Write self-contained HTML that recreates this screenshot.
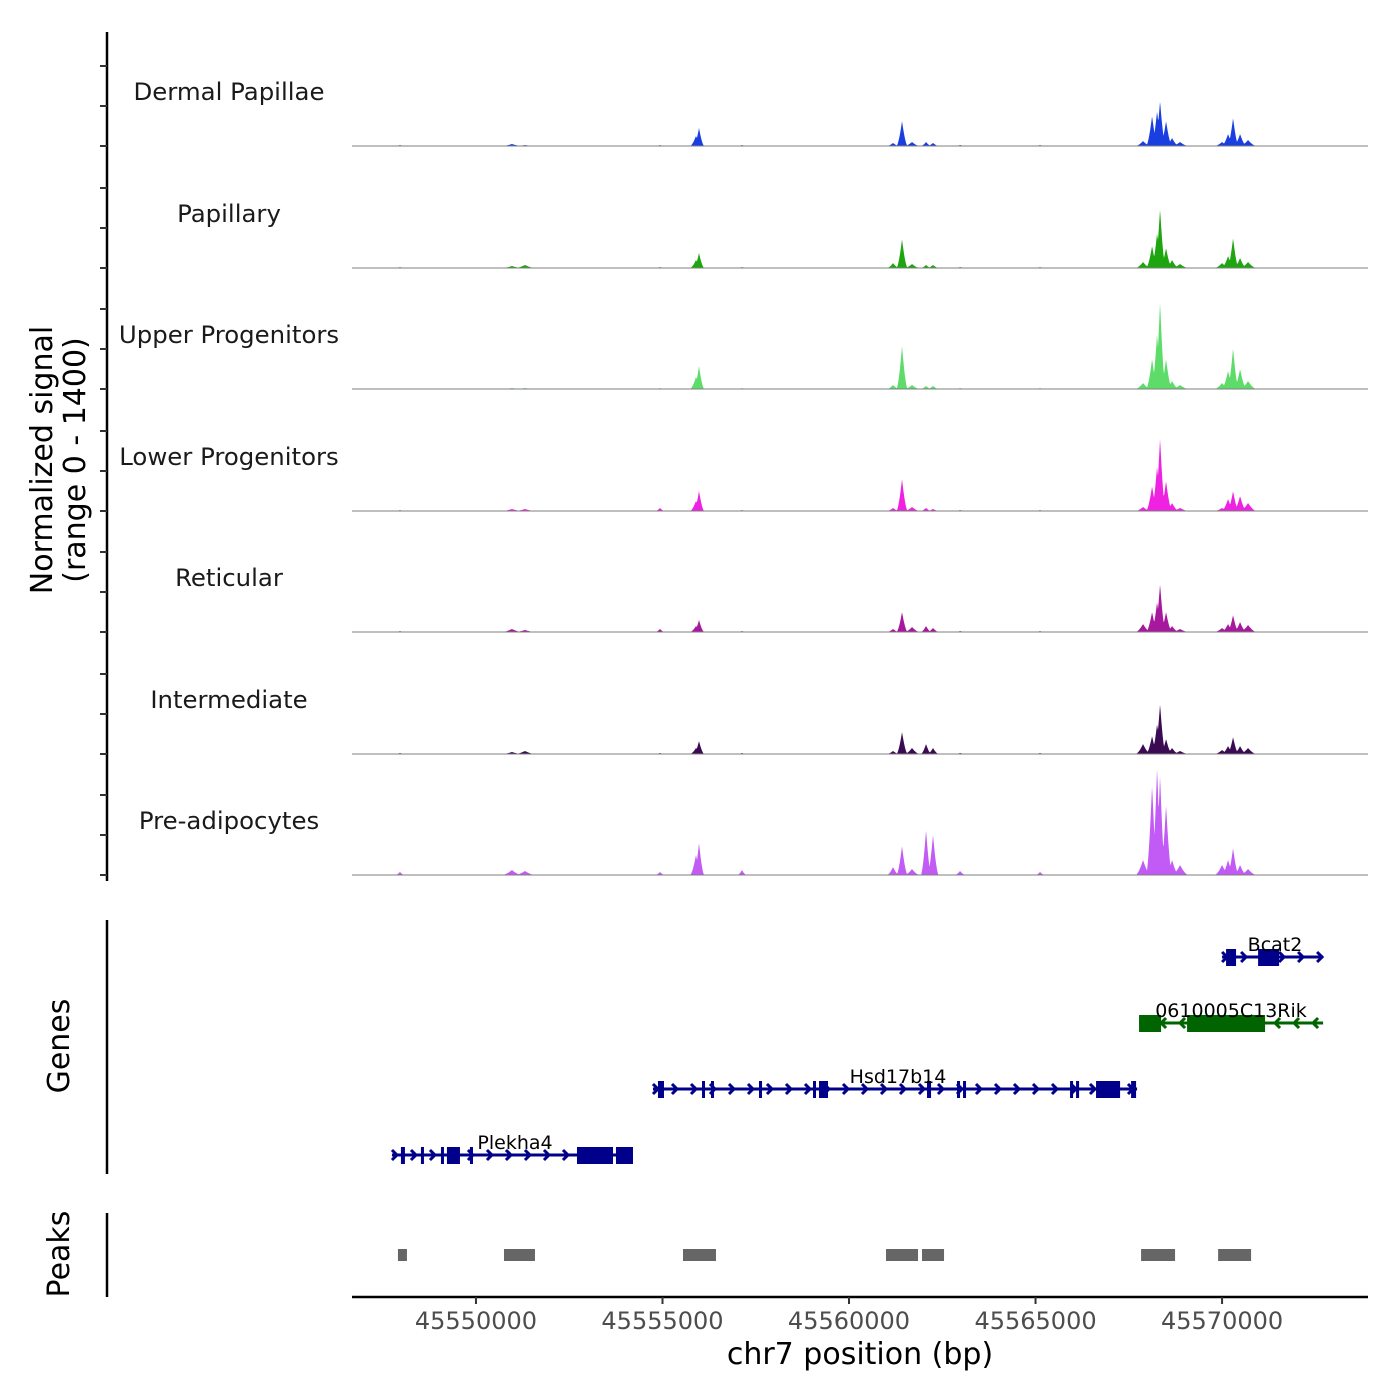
<!DOCTYPE html>
<html><head><meta charset="utf-8"><style>
html,body{margin:0;padding:0;background:#fff;}
svg{display:block;font-family:"DejaVu Sans","Liberation Sans",sans-serif;}
</style></head><body>
<svg id="plot" width="1400" height="1400" viewBox="0 0 1400 1400" xmlns="http://www.w3.org/2000/svg">
<rect width="1400" height="1400" fill="#fff"/>
<g id="tracks"></g>
<g id="genes"></g>
<g id="peaks"></g>
<g id="axes"></g>
</svg>
<script>
const xDomain = [45546677, 45573912];
const tickValues = [45550000, 45555000, 45560000, 45565000, 45570000];
const trackNames = ["Dermal Papillae","Papillary","Upper Progenitors","Lower Progenitors","Reticular","Intermediate","Pre-adipocytes"];
const trackColors = ["#1a3fe0","#1ea50f","#5ddc6a","#ee22e0","#a8189e","#3a0a52","#c25af5"];
const peakCenters = [45547962,45550965,45551314,45554933,45555898,45555979,45557131,45561180,45561421,45561689,45562065,45562252,45562976,45565121,45567882,45568124,45568258,45568338,45568499,45568660,45568874,45570000,45570161,45570295,45570483,45570697];
const peakHalfWidthsBp = [120,260,260,120,160,140,120,160,150,200,140,150,140,120,200,160,150,150,160,180,220,200,170,150,170,220];
const sigDermal = [12,25,12,12,125,225,12,38,312,50,50,38,12,12,62,375,438,562,312,100,50,50,150,350,150,75];
const sigPapillary = [12,25,38,12,100,188,12,62,362,50,38,38,12,12,75,275,438,738,250,100,50,62,150,375,125,75];
const sigUpper = [0,12,12,12,150,288,12,50,538,50,38,38,12,12,75,375,688,1088,375,100,50,75,225,512,250,100];
const sigLower = [12,25,25,38,125,250,12,38,400,50,38,25,12,12,50,312,562,912,375,100,38,38,150,250,188,100];
const sigReticular = [12,38,25,38,75,150,12,38,250,62,75,50,12,12,100,250,375,600,250,75,38,50,100,212,125,88];
const sigIntermediate = [12,25,38,12,75,162,12,38,275,75,125,75,12,12,125,225,375,625,188,75,38,50,100,212,100,75];
const sigPreadipo = [38,62,50,38,250,400,62,100,362,75,562,500,50,38,188,1125,1350,1250,875,188,125,125,188,338,125,75];
const trackSignals = [sigDermal,sigPapillary,sigUpper,sigLower,sigReticular,sigIntermediate,sigPreadipo];
const yMax = 1400;

const genesNames = ["Bcat2","0610005C13Rik","Hsd17b14","Plekha4"];
const genesStart = [45570000,45567775,45554745,45547748];
const genesEnd = [45572708,45572708,45567722,45554209];
const genesStrand = [1,-1,1,1];
const genesColor = ["#00008b","#006400","#00008b","#00008b"];
const exonStarts = [
 [45570107,45570966],
 [45567775,45569062],
 [45554879,45556059,45556300,45557587,45559035,45559196,45562091,45562895,45563056,45565925,45566086,45566622,45567561],
 [45547989,45548525,45549062,45549222,45549839,45552708,45553753]];
const exonEnds = [
 [45570375,45571528],
 [45568365,45571153],
 [45555040,45556140,45556381,45557668,45559115,45559437,45562199,45562976,45563137,45566006,45566167,45567266,45567695],
 [45548096,45548606,45549142,45549571,45549920,45553673,45554209]];
const peakStarts = [45547909,45550751,45555550,45560992,45561957,45567829,45569894];
const peakEnds = [45548150,45551582,45556434,45561850,45562547,45568740,45570778];

const NS="http://www.w3.org/2000/svg";
const X0=352, X1=1368;
function xs(v){return X0+(v-xDomain[0])/(xDomain[1]-xDomain[0])*(X1-X0);}
function bpPerPx(){return (xDomain[1]-xDomain[0])/(X1-X0);}
function mk(tag,attrs,parent){const e=document.createElementNS(NS,tag);for(const k in attrs)e.setAttribute(k,attrs[k]);parent.appendChild(e);return e;}

const baselines=[146,268,389,511,632,754,875];
const trackH=112;
const gT=document.getElementById('tracks');
trackSignals.forEach((sig,ti)=>{
  const base=baselines[ti];
  const g=mk('g',{},gT);
  
  
  let d='M'+X0+','+base;
  for(let px=X0;px<=X1;px+=0.5){
    const bp=xDomain[0]+(px-X0)*bpPerPx();
    let v=0;
    for(let i=0;i<peakCenters.length;i++){
      const dist=Math.abs(bp-peakCenters[i]);
      const w=peakHalfWidthsBp[i];
      if(dist<w){const u=dist/w;const k=sig[i]*Math.pow(1-u,1.6);if(k>v)v=k;}
    }
    d+=' L'+px+','+(base-v/yMax*trackH).toFixed(2);
  }
  d+=' L'+X1+','+base+' Z';
  const p=mk('path',{d:d,fill:trackColors[ti]},g);
  
  
  const bl=mk('line',{x1:X0,x2:X1,y1:base,y2:base,stroke:'#7f7f7f','stroke-width':1},g);
  
  
  const t=mk('text',{x:229,y:base-46,'text-anchor':'middle','font-size':24.4,fill:'#1a1a1a'},g);
  t.textContent=trackNames[ti];
  
  
});

const gG=document.getElementById('genes');
const geneY=[957,1023,1089,1155];
const labelX=[1275,1231,898,515];
genesNames.forEach((name,gi)=>{
  const y=geneY[gi], col=genesColor[gi];
  const g=mk('g',{},gG);
  
  
  const a=xs(genesStart[gi]), b=xs(genesEnd[gi]);
  mk('line',{x1:a,x2:b,y1:y,y2:y,stroke:col,'stroke-width':3},g);
  const s=genesStrand[gi];
  for(let x=a+4;x<=b-2;x+=19){
    mk('path',{d:s>0?`M${x-4},${y-5} L${x+1},${y} L${x-4},${y+5}`:`M${x+4},${y-5} L${x-1},${y} L${x+4},${y+5}`,stroke:col,'stroke-width':3,fill:'none'},g);
  }
  exonStarts[gi].forEach((st,ei)=>{
    const ex1=xs(st), ex2=xs(exonEnds[gi][ei]);
    const r=mk('rect',{x:ex1,y:y-8,width:Math.max(3,ex2-ex1),height:17,fill:col},g);
    
    
  });
  const t=mk('text',{x:labelX[gi],y:y-6,'text-anchor':'middle','font-size':19,fill:'#000'},g);
  t.textContent=name;
  
  
});

const gP=document.getElementById('peaks');
peakStarts.forEach((st,i)=>{
  const r=mk('rect',{x:xs(st),y:1249,width:xs(peakEnds[i])-xs(st),height:12,fill:'#666666'},gP);
  
  
});

const gA=document.getElementById('axes');
mk('line',{x1:107,x2:107,y1:32,y2:881,stroke:'#000','stroke-width':2.5},gA);
baselines.forEach(b=>{[0,500,1000].forEach(v=>{const y=b-v/yMax*trackH;mk('line',{x1:100,x2:107,y1:y,y2:y,stroke:'#333','stroke-width':2},gA);});});
mk('line',{x1:107,x2:107,y1:920,y2:1174,stroke:'#000','stroke-width':2.5},gA);
mk('line',{x1:107,x2:107,y1:1213,y2:1297,stroke:'#000','stroke-width':2.5},gA);
mk('line',{x1:X0,x2:X1,y1:1297,y2:1297,stroke:'#000','stroke-width':2.5},gA);
tickValues.forEach(v=>{
  const x=xs(v);
  mk('line',{x1:x,x2:x,y1:1297,y2:1304,stroke:'#333','stroke-width':2},gA);
  const t=mk('text',{x:x,y:1329,'text-anchor':'middle','font-size':24,fill:'#4d4d4d'},gA);
  t.textContent=v;
  
  
});
const xt=mk('text',{x:860,y:1364,'text-anchor':'middle','font-size':30,fill:'#000'},gA);
xt.textContent='chr7 position (bp)';


const yt=mk('text',{transform:'translate(52,460) rotate(-90)','text-anchor':'middle','font-size':30,fill:'#000'},gA);


const ts1=mk('tspan',{x:0,dy:0},yt);ts1.textContent='Normalized signal';
const ts2=mk('tspan',{x:0,dy:33},yt);ts2.textContent='(range 0 - 1400)';
const gt=mk('text',{transform:'translate(69,1046) rotate(-90)','text-anchor':'middle','font-size':30,fill:'#000'},gA);
gt.textContent='Genes';


const pt=mk('text',{transform:'translate(69,1254) rotate(-90)','text-anchor':'middle','font-size':30,fill:'#000'},gA);
pt.textContent='Peaks';


</script>
</body></html>
